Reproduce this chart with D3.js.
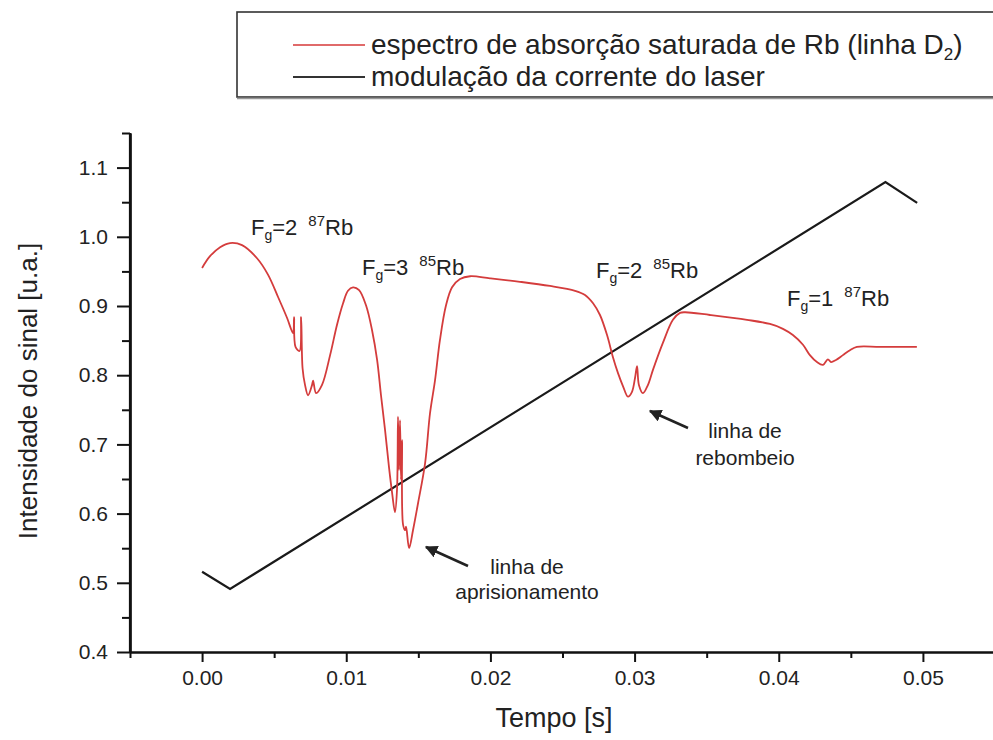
<!DOCTYPE html>
<html><head><meta charset="utf-8">
<script src="https://cdn.jsdelivr.net/npm/d3@7"></script>
<style>body{margin:0;background:#fff}svg{display:block}text{font-family:"Liberation Sans",Arial,sans-serif;fill:#222}</style>
</head><body><svg id="c" width="993" height="740"></svg>
<script>
// ---- data ----
const spectrumT = [0,0.00055,0.00125,0.00194,0.00277,0.00381,0.00458,0.00527,0.00589,0.00631,0.00638,0.00648,0.00676,0.00687,0.00697,0.00714,0.00735,0.00763,0.0077,0.00791,0.00832,0.00888,0.00936,0.00978,0.01012,0.01047,0.01089,0.01137,0.01179,0.01214,0.01241,0.01269,0.01297,0.01318,0.01338,0.01352,0.01359,0.01366,0.01373,0.0138,0.01387,0.01394,0.01408,0.01415,0.01436,0.01463,0.01498,0.01547,0.01581,0.01616,0.0165,0.01692,0.01734,0.01789,0.01859,0.01997,0.02205,0.02413,0.02587,0.02656,0.02712,0.0276,0.02809,0.0285,0.02885,0.0292,0.02954,0.02982,0.03003,0.03017,0.0303,0.03058,0.03093,0.03128,0.03197,0.03266,0.03315,0.0335,0.03523,0.0378,0.03939,0.04029,0.04098,0.04168,0.04216,0.04265,0.04307,0.04341,0.04362,0.04397,0.04445,0.04494,0.04542,0.04702,0.04958];
const spectrumV = [0.955,0.972,0.985,0.991,0.988,0.969,0.945,0.913,0.883,0.861,0.884,0.841,0.835,0.884,0.810,0.786,0.771,0.786,0.792,0.774,0.786,0.829,0.873,0.904,0.922,0.927,0.923,0.901,0.865,0.822,0.771,0.721,0.666,0.630,0.602,0.634,0.740,0.663,0.735,0.649,0.706,0.584,0.576,0.581,0.550,0.576,0.615,0.673,0.745,0.793,0.851,0.901,0.927,0.939,0.943,0.940,0.935,0.929,0.922,0.916,0.904,0.887,0.858,0.826,0.803,0.784,0.769,0.776,0.796,0.813,0.786,0.774,0.786,0.808,0.847,0.880,0.890,0.891,0.887,0.880,0.874,0.867,0.858,0.844,0.829,0.819,0.815,0.823,0.819,0.822,0.829,0.836,0.841,0.841,0.841];
const rampT = [0, 0.00194, 0.0474, 0.0496];
const rampV = [0.516, 0.491, 1.079, 1.049];
const xTicks = [0, 0.01, 0.02, 0.03, 0.04, 0.05];
const xMinor = [-0.005, 0.005, 0.015, 0.025, 0.035, 0.045, 0.055];
const yTicks = [0.4, 0.5, 0.6, 0.7, 0.8, 0.9, 1.0, 1.1];
const yMinor = [0.45, 0.55, 0.65, 0.75, 0.85, 0.95, 1.05, 1.15];
const legendLabels = ["espectro de absorção saturada de Rb (linha D", "modulação da corrente do laser"];
const peakLabels = [
  {F:"2", A:"87"},
  {F:"3", A:"85"},
  {F:"2", A:"85"},
  {F:"1", A:"87"}
];

// ---- layout ----
const svg = d3.select("#c");
const x = d3.scaleLinear().domain([-0.005, 0.055]).range([130, 995]);
const y = d3.scaleLinear().domain([0.4, 1.15]).range([652, 133]);
const RED = "#d43c3c";

// axes
const fmtX = d3.format(".2f"), fmtY = d3.format(".1f");
svg.append("g").attr("transform","translate(0,652)")
  .call(d3.axisBottom(x).tickValues(xTicks).tickFormat(fmtX).tickSize(10).tickPadding(8).tickSizeOuter(0));
svg.append("g").attr("transform","translate(0,652)")
  .call(d3.axisBottom(x).tickValues(xMinor).tickFormat("").tickSize(6).tickSizeOuter(0));
svg.append("g").attr("transform","translate(130,0)")
  .call(d3.axisLeft(y).tickValues(yTicks).tickFormat(fmtY).tickSize(13).tickPadding(9).tickSizeOuter(0));
svg.append("g").attr("transform","translate(130,0)")
  .call(d3.axisLeft(y).tickValues(yMinor).tickFormat("").tickSize(8).tickSizeOuter(0));
svg.selectAll(".domain").attr("stroke","#111").attr("stroke-width",2.2);
svg.selectAll(".tick line").attr("stroke","#111").attr("stroke-width",2);
svg.selectAll(".tick text").attr("font-size",21).attr("fill","#333").attr("font-family","Liberation Sans, Arial");
svg.append("line").attr("x1",130).attr("x2",130).attr("y1",652).attr("y2",y(1.15)).attr("stroke","#111").attr("stroke-width",2.2);

// titles
svg.append("text").attr("x",554).attr("y",727).attr("text-anchor","middle").attr("font-size",27).text("Tempo [s]");
svg.append("text").attr("transform","translate(37,391) rotate(-90)").attr("text-anchor","middle").attr("font-size",26).text("Intensidade do sinal [u.a.]");

// lines
const line = d3.line().x(d=>x(d[0])).y(d=>y(d[1]));
const spec = spectrumT.map((t,i)=>[t, spectrumV[i]]);
const ramp = rampT.map((t,i)=>[t, rampV[i]]);
svg.append("path").datum(ramp).attr("d", line).attr("fill","none").attr("stroke","#1a1a1a").attr("stroke-width",2.2);
svg.append("path").datum(spec).attr("d", line.curve(d3.curveCatmullRom.alpha(0.5))).attr("fill","none").attr("stroke",RED).attr("stroke-width",1.8).attr("stroke-linejoin","round");

// peak labels
const pl = svg.append("g").attr("font-size",22);
const plPos = [[251,235],[362,275],[596,278],[787,306]];
peakLabels.forEach((p,i)=>{
  const tx = pl.append("text").attr("x",plPos[i][0]).attr("y",plPos[i][1]);
  tx.append("tspan").text("F");
  tx.append("tspan").attr("font-size",14).attr("dy",5).text("g");
  tx.append("tspan").attr("dy",-5).text("=" + p.F + "\u2002");
  tx.append("tspan").attr("font-size",15).attr("dy",-9).text(p.A);
  tx.append("tspan").attr("dy",9).text("Rb");
});

// arrows
const defs = svg.append("defs");
defs.append("marker").attr("id","ah").attr("viewBox","0 0 10 10").attr("refX",9).attr("refY",5)
  .attr("markerWidth",5).attr("markerHeight",5).attr("orient","auto")
  .append("path").attr("d","M0,0 L10,5 L0,10 z").attr("fill","#222");
svg.append("line").attr("x1",468).attr("y1",566).attr("x2",426).attr("y2",547).attr("stroke","#222").attr("stroke-width",2.5).attr("marker-end","url(#ah)");
svg.append("line").attr("x1",688).attr("y1",428).attr("x2",650).attr("y2",411).attr("stroke","#222").attr("stroke-width",2.5).attr("marker-end","url(#ah)");
const a1 = svg.append("text").attr("font-size",21).attr("text-anchor","middle");
a1.append("tspan").attr("x",527).attr("y",574).text("linha de");
a1.append("tspan").attr("x",527).attr("y",599).text("aprisionamento");
const a2 = svg.append("text").attr("font-size",21).attr("text-anchor","middle");
a2.append("tspan").attr("x",745).attr("y",438).text("linha de");
a2.append("tspan").attr("x",745).attr("y",465).text("rebombeio");

// legend
const lg = svg.append("g");
lg.append("rect").attr("x",237).attr("y",12).attr("width",770).attr("height",85).attr("fill","#fff").attr("stroke","#333").attr("stroke-width",1.6);
lg.append("line").attr("x1",237).attr("x2",1000).attr("y1",98.5).attr("y2",98.5).attr("stroke","#999").attr("stroke-width",1.5);
lg.append("line").attr("x1",293).attr("x2",365).attr("y1",45).attr("y2",45).attr("stroke","#e06a6a").attr("stroke-width",2);
lg.append("line").attr("x1",293).attr("x2",365).attr("y1",77).attr("y2",77).attr("stroke","#333").attr("stroke-width",2);
const l1 = lg.append("text").attr("x",371).attr("y",54).attr("font-size",28);
l1.append("tspan").text(legendLabels[0]);
l1.append("tspan").attr("font-size",17).attr("dy",6).text("2");
l1.append("tspan").attr("dy",-6).text(")");
lg.append("text").attr("x",371).attr("y",86).attr("font-size",28).text(legendLabels[1]);
</script></body></html>
